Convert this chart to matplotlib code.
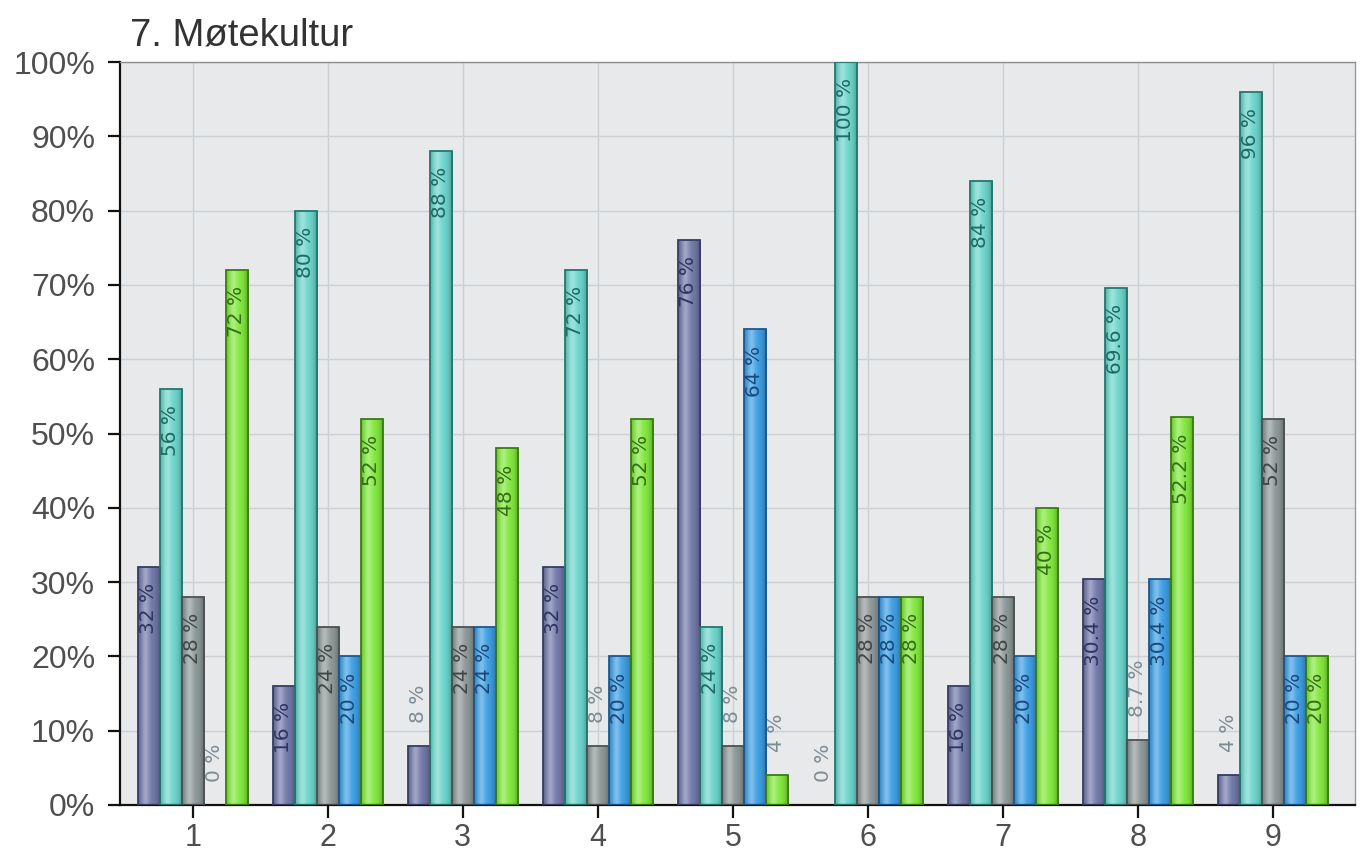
import numpy as np
import matplotlib
matplotlib.use("Agg")
import matplotlib.pyplot as plt
from matplotlib.colors import to_rgb

plt.rcParams['font.family'] = ['Liberation Sans', 'DejaVu Sans']

# Categories and the five answer series (percent)
categories = ['1', '2', '3', '4', '5', '6', '7', '8', '9']
s_navy = [32, 16, 8, 32, 76, 0, 16, 30.4, 4]
s_teal = [56, 80, 88, 72, 24, 100, 84, 69.6, 96]
s_grey = [28, 24, 24, 8, 8, 28, 28, 8.7, 52]
s_blue = [0, 20, 24, 20, 64, 28, 20, 30.4, 20]
s_green = [72, 52, 48, 52, 4, 28, 40, 52.2, 20]
y_ticks = [0, 10, 20, 30, 40, 50, 60, 70, 80, 90, 100]
title = '7. Møtekultur'

series = [s_navy, s_teal, s_grey, s_blue, s_green]
fills = ['#727aa9', '#6dd5cb', '#8f9898', '#3f9fe3', '#82e83e']
edges = ['#353c66', '#23786f', '#4a5252', '#1c578f', '#3b7d12']
inner_text = ['#2d3460', '#1d6a62', '#3f4646', '#17497d', '#336e10']

fig = plt.figure(figsize=(13.65, 8.56), dpi=100)
ax = fig.add_axes([120 / 1365, 51 / 856, 1235 / 1365, 743 / 856])
ax.set_facecolor('#e7e9eb')

x = np.arange(1, len(categories) + 1)
bw = 0.163
n = len(series)


def gradient_for(color):
    base = np.array(to_rgb(color))
    t = np.linspace(0, 1, 64)
    # cylinder-like shading: darker rims, light band left of centre
    light = 0.55 * np.exp(-((t - 0.32) / 0.18) ** 2)
    dark = 0.35 * (np.abs(t - 0.45) / 0.55) ** 3
    rows = []
    for li, di in zip(light, dark):
        c = base + (1 - base) * li * 0.6
        c = c * (1 - di)
        rows.append(np.clip(c, 0, 1))
    return np.array(rows)[None, :, :]


for i, (vals, fc, ec, tc) in enumerate(zip(series, fills, edges, inner_text)):
    xpos = x + (i - (n - 1) / 2) * bw
    bars = ax.bar(xpos, vals, width=bw, color=fc, edgecolor='none', zorder=2)
    grad = gradient_for(fc)
    for p in bars:
        h = p.get_height()
        if h <= 0:
            continue
        im = ax.imshow(grad, extent=[p.get_x(), p.get_x() + p.get_width(), 0, h],
                       aspect='auto', zorder=2.2, interpolation='bilinear')
        im.set_clip_path(p)
    outline = ax.bar(xpos, vals, width=bw, fill=False, edgecolor=ec,
                     linewidth=1.3, zorder=3)
    for p in outline:
        if p.get_height() <= 0:
            p.set_visible(False)
    for xp, v in zip(xpos, vals):
        lab = f'{v:g} %'
        if v >= 15:
            ax.annotate(lab, (xp, v), xytext=(0, -16), textcoords='offset pixels',
                        rotation=90, ha='center', va='top', fontsize=14.5,
                        family=['DejaVu Sans'], color=tc, zorder=4)
        else:
            ax.annotate(lab, (xp, v), xytext=(0, 23), textcoords='offset pixels',
                        rotation=90, ha='center', va='bottom', fontsize=14.5,
                        family=['DejaVu Sans'], color='#7f8b93', zorder=4)

ax.set_xlim(0.46, 9.61)
ax.set_ylim(0, 100)
ax.set_xticks(x)
ax.set_xticklabels(categories)
ax.set_yticks(y_ticks)
ax.set_yticklabels([f'{t}%' for t in y_ticks])

ax.grid(True, color='#cdd0d3', linewidth=1.0, zorder=0)
ax.set_axisbelow(True)

for side in ['left', 'bottom']:
    ax.spines[side].set_color('#111111')
    ax.spines[side].set_linewidth(1.6)
ax.spines['top'].set_color('#8c8f92')
ax.spines['top'].set_linewidth(1.0)
ax.spines['right'].set_color('#9a9da0')
ax.spines['right'].set_linewidth(1.0)

ax.tick_params(axis='both', direction='out', length=9, width=1.6, color='#111111',
               labelsize=23, labelcolor='#4f4f4f')
ax.tick_params(axis='y', pad=9)
ax.tick_params(axis='x', pad=4, labelsize=22)

fig.text(130 / 1365, 1 - 35 / 856, title, fontsize=27.5, color='#333333',
         ha='left', va='center')

fig.savefig('out.png', dpi=100, facecolor='white')
